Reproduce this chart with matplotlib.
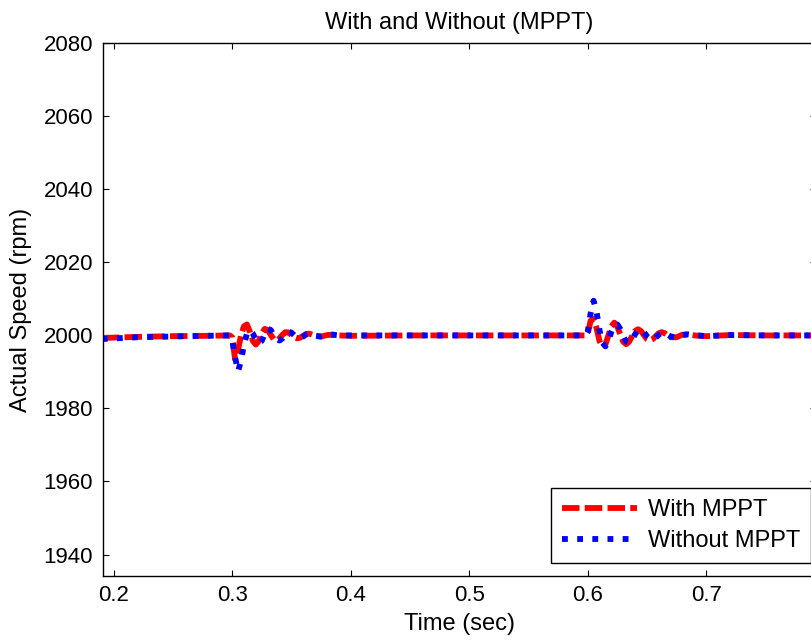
import matplotlib.pyplot as plt

plt.rcParams['font.family'] = ['Liberation Sans', 'DejaVu Sans']

# Zeitpunkte (s) und Drehzahl (rpm)
t_with = [0.19, 0.22, 0.25, 0.28, 0.298, 0.300, 0.3025, 0.305, 0.3075, 0.310,
          0.3125, 0.315, 0.3175, 0.320, 0.3225, 0.325, 0.3275, 0.330, 0.3325, 0.335,
          0.3375, 0.340, 0.3425, 0.345, 0.3475, 0.350, 0.3525, 0.355, 0.3575, 0.360,
          0.3625, 0.365, 0.3675, 0.370, 0.375, 0.38, 0.385, 0.39, 0.40, 0.45,
          0.50, 0.598, 0.600, 0.6025, 0.605, 0.6075, 0.610, 0.6125, 0.615, 0.6175,
          0.620, 0.6225, 0.625, 0.6275, 0.630, 0.6325, 0.635, 0.6375, 0.640, 0.6425,
          0.645, 0.6475, 0.650, 0.6525, 0.655, 0.6575, 0.660, 0.6625, 0.665, 0.6675,
          0.670, 0.675, 0.68, 0.685, 0.69, 0.70, 0.72, 0.75, 0.80]
speed_with = [1999.3, 1999.6, 1999.8, 1999.9, 2000.0, 1999.5, 1993.5, 1996.0, 2000.0, 2002.5,
              2003.0, 2001.0, 1998.5, 1997.5, 1998.5, 2000.5, 2001.8, 2001.5, 2000.2, 1999.0,
              1998.6, 1999.2, 2000.2, 2000.9, 2000.8, 2000.2, 1999.5, 1999.2, 1999.4, 1999.9,
              2000.4, 2000.5, 2000.2, 1999.8, 1999.7, 2000.1, 2000.2, 2000.0, 1999.9, 2000.0,
              2000.0, 2000.0, 2000.3, 2004.0, 2004.5, 2002.0, 1998.5, 1996.8, 1997.5, 2000.0,
              2002.5, 2003.5, 2002.5, 2000.3, 1998.3, 1997.6, 1998.3, 1999.8, 2001.2, 2001.7,
              2001.2, 2000.1, 1999.0, 1998.6, 1999.0, 1999.8, 2000.6, 2000.9, 2000.6, 2000.0,
              1999.5, 1999.5, 2000.2, 2000.3, 2000.0, 1999.8, 2000.1, 2000.0, 2000.0]

t_without = t_with
speed_without = [1999.0, 1999.5, 1999.7, 1999.9, 2000.0, 1999.0, 1994.0, 1990.2, 1993.0, 1997.5,
                 2000.5, 2001.5, 2000.5, 1998.8, 1997.8, 1998.5, 2000.5, 2001.8, 2001.5, 2000.2,
                 1999.0, 1998.6, 1999.2, 2000.3, 2001.0, 2000.8, 2000.0, 1999.4, 1999.3, 1999.7,
                 2000.3, 2000.5, 2000.3, 1999.9, 1999.7, 2000.1, 2000.2, 2000.0, 2000.0, 2000.0,
                 2000.0, 2000.0, 2001.0, 2006.0, 2009.5, 2006.5, 2001.5, 1998.0, 1997.0, 1998.5,
                 2001.0, 2002.8, 2003.0, 2001.8, 1999.8, 1998.3, 1998.0, 1998.8, 2000.3, 2001.4,
                 2001.6, 2000.9, 1999.8, 1999.0, 1998.9, 1999.4, 2000.2, 2000.7, 2000.7, 2000.2,
                 1999.7, 1999.5, 2000.1, 2000.3, 2000.1, 1999.8, 2000.1, 2000.0, 2000.0]

x_ticks = [0.2, 0.3, 0.4, 0.5, 0.6, 0.7]
y_ticks = [1940, 1960, 1980, 2000, 2020, 2040, 2060, 2080]

fig = plt.figure(figsize=(8.12, 6.41), dpi=100)
# Achse reicht rechts etwas über das Bild hinaus (wie im Original abgeschnitten)
ax = fig.add_axes([102.6 / 812, 1 - 575.7 / 641, (816 - 102.6) / 812, (575.7 - 43.3) / 641])

ax.plot(t_with, speed_with, color='red', linestyle='--', linewidth=4.2,
        dashes=(3, 0.9), label='With MPPT')
ax.plot(t_without, speed_without, color='blue', linestyle=':', linewidth=4.2,
        dashes=(1, 1.6), label='Without MPPT')

ax.set_xlim(0.1907, 0.7927)
ax.set_ylim(1934.2, 2080)
ax.set_xticks(x_ticks)
ax.set_xticklabels([f"{v:.1f}" for v in x_ticks])
ax.set_yticks(y_ticks)
ax.tick_params(direction='in', length=4, width=0.8, labelsize=16,
               top=True, right=True, pad=7)
for s in ax.spines.values():
    s.set_linewidth(1.0)

ax.set_title('With and Without (MPPT)', fontsize=17, pad=10)
ax.set_xlabel('Time (sec)', fontsize=17, labelpad=5)
ax.set_ylabel('Actual Speed (rpm)', fontsize=17, labelpad=8)

leg = ax.legend(loc='lower right', fontsize=17, fancybox=False,
                edgecolor='black', framealpha=1, handlelength=3.2,
                handletextpad=0.45, bbox_to_anchor=(811 / 812, 1 - 563 / 641),
                bbox_transform=fig.transFigure, borderaxespad=0,
                borderpad=0.45, labelspacing=0.4)
leg.get_frame().set_linewidth(1.0)

plt.savefig('out.png', dpi=100)
